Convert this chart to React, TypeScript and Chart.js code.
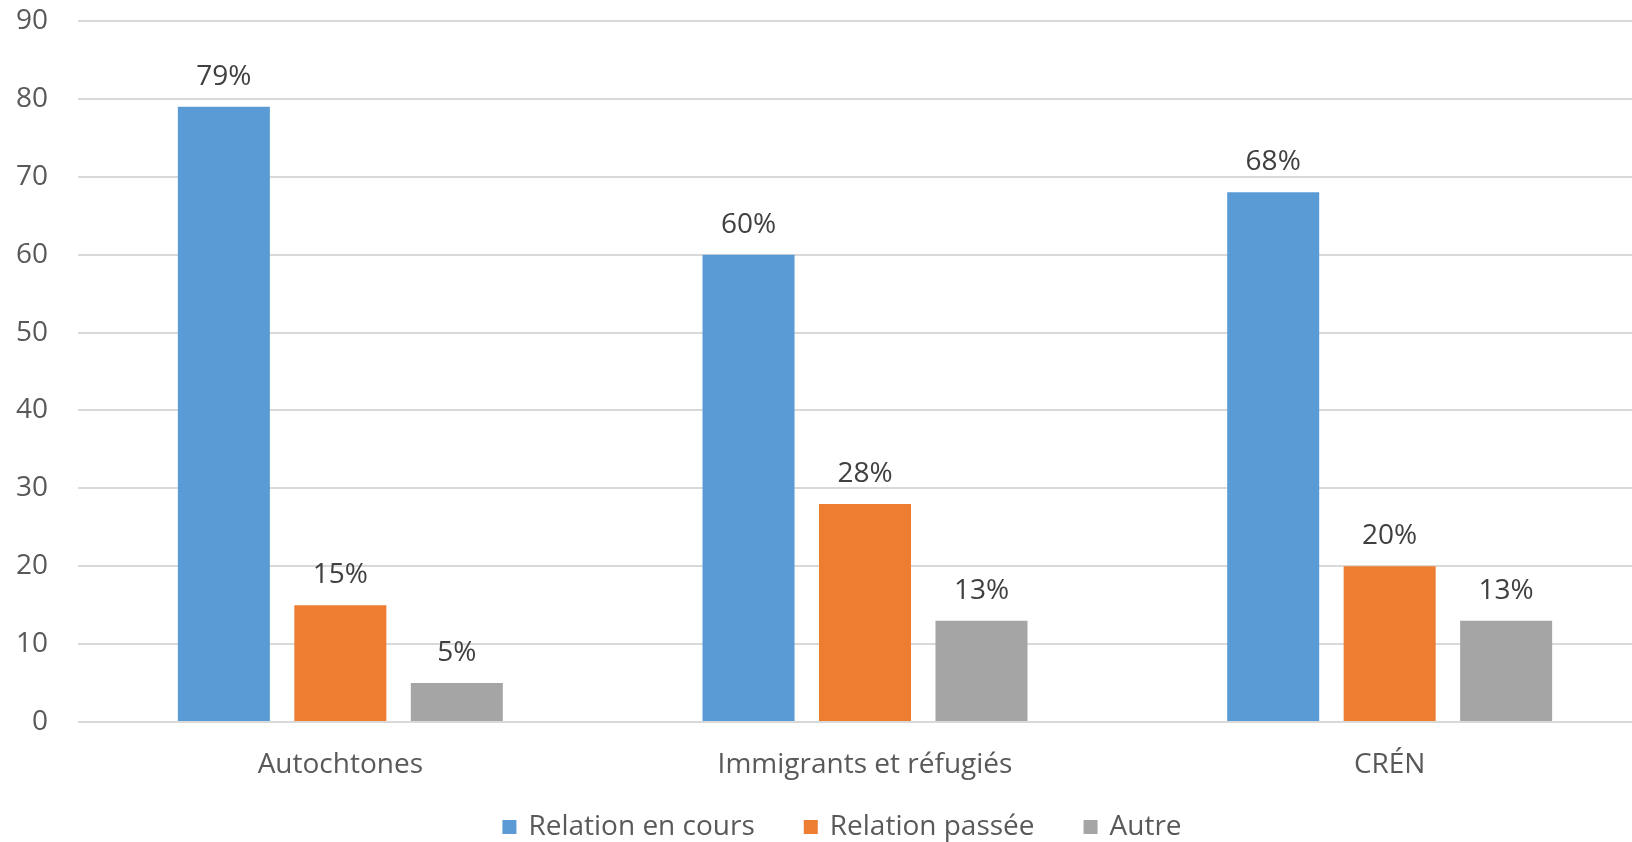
import React, { useEffect, useRef } from "react";
import { Chart, registerables } from "chart.js";

Chart.register(...registerables);

const categories = ["Autochtones", "Immigrants et réfugiés", "CRÉN"];
const seriesNames = ["Relation en cours", "Relation passée", "Autre"];
const relationEnCours = [79, 60, 68];
const relationPassee = [15, 28, 20];
const autre = [5, 13, 13];
const seriesColors = ["#5B9BD5", "#ED7D31", "#A5A5A5"];

const FONT = "'Open Sans', sans-serif";
const FONT_SIZE = 28;

const dataLabelPlugin = {
  id: "dataLabels",
  afterDatasetsDraw(chart: any) {
    const ctx = chart.ctx;
    ctx.save();
    ctx.font = `${FONT_SIZE}px ${FONT}`;
    ctx.fillStyle = "#404040";
    ctx.textAlign = "center";
    ctx.textBaseline = "middle";
    chart.data.datasets.forEach((ds: any, i: number) => {
      const meta = chart.getDatasetMeta(i);
      meta.data.forEach((bar: any, j: number) => {
        ctx.fillText(`${ds.data[j]}%`, bar.x, bar.y - 30);
      });
    });
    ctx.restore();
  },
};

const customLegendPlugin = {
  id: "customLegend",
  afterDraw(chart: any) {
    const ctx = chart.ctx;
    ctx.save();
    ctx.font = `${FONT_SIZE}px ${FONT}`;
    ctx.textBaseline = "middle";
    ctx.textAlign = "left";
    const box = 14;
    const boxGap = 12;
    const itemGap = 49;
    const y = 827;
    const items = chart.data.datasets.map((ds: any) => ({
      label: ds.label,
      color: ds.backgroundColor,
      w: box + boxGap + ctx.measureText(ds.label).width,
    }));
    const total = items.reduce((s: number, it: any) => s + it.w, 0) + itemGap * (items.length - 1);
    let x = 842 - total / 2;
    items.forEach((it: any) => {
      ctx.fillStyle = it.color;
      ctx.fillRect(x, y - box / 2, box, box);
      ctx.fillStyle = "#595959";
      ctx.fillText(it.label, x + box + boxGap, y);
      x += it.w + itemGap;
    });
    ctx.restore();
  },
};

export default function App() {
  const ref = useRef<HTMLCanvasElement | null>(null);
  useEffect(() => {
    document.body.style.margin = "0";
    document.body.style.overflow = "hidden";
    const values = [relationEnCours, relationPassee, autre];
    const chart = new Chart(ref.current as HTMLCanvasElement, {
      type: "bar",
      data: {
        labels: categories,
        datasets: seriesNames.map((name, i) => ({
          label: name,
          data: values[i],
          backgroundColor: seriesColors[i],
          categoryPercentage: 0.666,
          barPercentage: 0.79,
        })),
      },
      options: {
        animation: false,
        responsive: false,
        layout: { padding: { top: 21, bottom: 60, left: 0, right: 0 } },
        plugins: {
          legend: { display: false },
          tooltip: { enabled: false },
        },
        scales: {
          x: {
            grid: { display: false, drawTicks: false },
            border: { display: false },
            ticks: {
              color: "#595959",
              font: { family: FONT, size: FONT_SIZE },
              padding: 26,
              maxRotation: 0,
            },
            afterFit(scale: any) {
              scale.height = 60;
              scale.paddingLeft = 0;
              scale.paddingRight = 0;
            },
          },
          y: {
            min: 0,
            max: 90,
            grid: { color: "#D9D9D9", lineWidth: 2, drawTicks: false },
            border: { display: false },
            ticks: {
              stepSize: 10,
              color: "#595959",
              font: { family: FONT, size: FONT_SIZE },
              padding: 30,
            },
            afterFit(scale: any) {
              scale.width = 78;
              scale.paddingTop = 0;
              scale.paddingBottom = 0;
            },
          },
        },
      },
      plugins: [dataLabelPlugin, customLegendPlugin],
    });
    return () => chart.destroy();
  }, []);
  return (
    <div style={{ position: "relative", width: 1632, height: 842, overflow: "hidden" }}>
      <canvas ref={ref} width={1652} height={842} style={{ display: "block" }} />
    </div>
  );
}
